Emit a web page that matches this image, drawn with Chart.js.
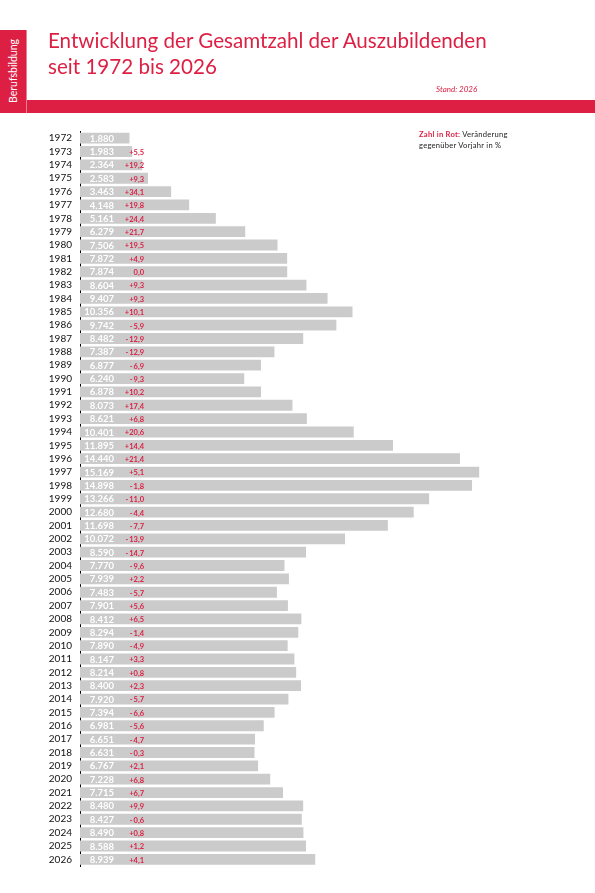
<!DOCTYPE html>
<html lang="de">
<head>
<meta charset="utf-8">
<title>Entwicklung der Gesamtzahl der Auszubildenden</title>
<script src="https://cdn.jsdelivr.net/npm/chart.js@4.4.1/dist/chart.umd.min.js"></script>
<style>
  html, body { margin: 0; padding: 0; background: #fff; }
  body { width: 595px; height: 893px; position: relative; overflow: hidden; font-family: Lato, "Open Sans", sans-serif; }
  #chart { position: absolute; left: 0; top: 0; }
  .tab { position: absolute; left: 0; top: 30px; width: 26px; height: 83px; background: #dc1f43; border-right: 1px solid #ec7f92; }
  .tab span { position: absolute; left: 13px; top: 41px; transform: translate(-50%, -50%) rotate(-90deg); color: #fff; font-size: 10.5px; white-space: nowrap; }
  .band { position: absolute; left: 0; top: 100px; width: 595px; height: 13px; background: #dc1f43; }
  .title { position: absolute; left: 48px; top: 27px; color: #dc1f43; font-size: 20.6px; line-height: 26px; }
  .stand { position: absolute; left: 436px; top: 84px; color: #dc1f43; font-size: 8px; font-style: italic; }
  .note { position: absolute; left: 419px; top: 129px; font-size: 7.6px; line-height: 11px; color: #222; letter-spacing: 0.25px; }
  .note b { color: #dc1f43; }
</style>
</head>
<body>
<canvas id="chart" width="595" height="893"></canvas>
<div class="band"></div>
<div class="tab"><span>Berufsbildung</span></div>
<div class="title">Entwicklung der Gesamtzahl der Auszubildenden<br>seit 1972 bis 2026</div>
<div class="stand">Stand: 2026</div>
<div class="note"><b>Zahl in Rot:</b> Veränderung<br>gegenüber Vorjahr in %</div>
<script>
// Jahre
const years = [
  '1972','1973','1974','1975','1976','1977','1978','1979','1980','1981',
  '1982','1983','1984','1985','1986','1987','1988','1989','1990','1991',
  '1992','1993','1994','1995','1996','1997','1998','1999','2000','2001',
  '2002','2003','2004','2005','2006','2007','2008','2009','2010','2011',
  '2012','2013','2014','2015','2016','2017','2018','2019','2020','2021',
  '2022','2023','2024','2025','2026'
];
// Gesamtzahl der Auszubildenden
const totals = [
  1880, 1983, 2364, 2583, 3463, 4148, 5161, 6279, 7506, 7872,
  7874, 8604, 9407, 10356, 9742, 8482, 7387, 6877, 6240, 6878,
  8073, 8621, 10401, 11895, 14440, 15169, 14898, 13266, 12680, 11698,
  10072, 8590, 7770, 7939, 7483, 7901, 8412, 8294, 7890, 8147,
  8214, 8400, 7920, 7394, 6981, 6651, 6631, 6767, 7228, 7715,
  8480, 8427, 8490, 8588, 8939
];
// Veränderung gegenüber Vorjahr in %
const changes = [
  null, 5.5, 19.2, 9.3, 34.1, 19.8, 24.4, 21.7, 19.5, 4.9,
  0.0, 9.3, 9.3, 10.1, -5.9, -12.9, -12.9, -6.9, -9.3, 10.2,
  17.4, 6.8, 20.6, 14.4, 21.4, 5.1, -1.8, -11.0, -4.4, -7.7,
  -13.9, -14.7, -9.6, 2.2, -5.7, 5.6, 6.5, -1.4, -4.9, 3.3,
  0.8, 2.3, -5.7, -6.6, -5.6, -4.7, -0.3, 2.1, 6.8, 6.7,
  9.9, -0.6, 0.8, 1.2, 4.1
];

const red = '#dc1f43';

function fmtTotal(v) {
  return String(v).replace(/\B(?=(\d{3})+(?!\d))/g, '.');
}
function fmtChange(c) {
  const s = Math.abs(c).toFixed(1).replace('.', ',');
  if (c > 0) return '+' + s;
  if (c < 0) return '-\u2009' + s;
  return s;
}

// Zahlen in die Balken schreiben
const barLabels = {
  id: 'barLabels',
  afterDatasetsDraw(chart) {
    const ctx = chart.ctx;
    const left = chart.chartArea.left;
    const meta = chart.getDatasetMeta(0);
    ctx.save();
    ctx.textBaseline = 'middle';
    ctx.textAlign = 'right';
    meta.data.forEach((bar, i) => {
      ctx.fillStyle = '#fff';
      ctx.font = 'bold 9.5px Lato, sans-serif';
      ctx.fillText(fmtTotal(totals[i]), left + 34, bar.y + 0.5);
      if (changes[i] !== null) {
        ctx.fillStyle = red;
        ctx.font = 'bold 7.5px Lato, sans-serif';
        ctx.fillText(fmtChange(changes[i]), left + 64, bar.y + 1);
      }
    });
    ctx.restore();
  }
};

new Chart(document.getElementById('chart'), {
  type: 'bar',
  data: {
    labels: years,
    datasets: [{
      data: totals,
      backgroundColor: '#cbcbcc',
      borderWidth: 0,
      categoryPercentage: 1,
      barPercentage: 0.81
    }]
  },
  options: {
    indexAxis: 'y',
    responsive: false,
    animation: false,
    layout: { padding: { left: 0, right: 15, top: 131.5, bottom: 27 } },
    plugins: { legend: { display: false }, tooltip: { enabled: false } },
    scales: {
      x: { display: false, min: 0, max: 19000 },
      y: {
        afterFit(scale) { scale.width = 80; },
        grid: { display: false, drawTicks: false },
        border: { display: true, color: '#000', width: 1 },
        ticks: {
          autoSkip: false,
          padding: 8,
          color: '#111',
          font: { family: 'Lato', size: 10 }
        }
      }
    }
  },
  plugins: [barLabels]
});
</script>
</body>
</html>
